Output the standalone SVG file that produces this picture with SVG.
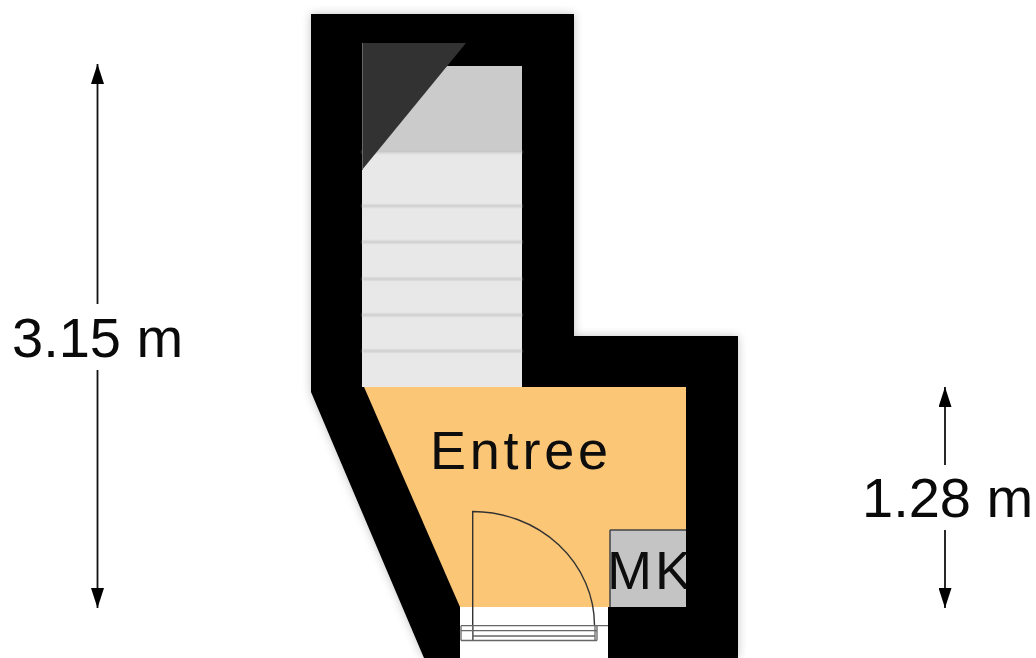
<svg xmlns="http://www.w3.org/2000/svg" width="1036" height="658" viewBox="0 0 1036 658">
<style>
text{font-family:"Liberation Sans",Arial,sans-serif;font-size:56px;fill:#0a0a0a}
.tread{fill:none;stroke:#c4c4c4;stroke-width:2;filter:url(#soft)}
.dim{stroke:#111;stroke-width:1.8;fill:none}
.door{fill:none;stroke:#333;stroke-width:1.4}
.door2{fill:none;stroke:#666;stroke-width:1.3}
.plan{filter:url(#tiny)}
</style>
<defs>
<filter id="tiny" x="-5%" y="-5%" width="110%" height="110%"><feGaussianBlur stdDeviation="0.45"/></filter>
<filter id="soft" x="-20%" y="-20%" width="140%" height="140%"><feGaussianBlur stdDeviation="0.9"/></filter>
<filter id="shadow" x="-10%" y="-10%" width="120%" height="120%"><feGaussianBlur stdDeviation="5"/></filter>
<marker id="arrow" viewBox="0 0 20 13" refX="20" refY="6.5" markerUnits="userSpaceOnUse" markerWidth="20" markerHeight="13" orient="auto"><path d="M0 0L20 6.500L0 13Z" fill="#000"/></marker>
<clipPath id="mkclip"><rect x="600" y="530" width="86" height="77"/></clipPath>
</defs>
<rect width="1036" height="658" fill="#fff"/>
<path d="M311 14H574V336H738V658H608V607H460V658H424L311 392Z" fill="#888" opacity=".5" filter="url(#shadow)"/>
<g id="walls" class="plan">
<path d="M311 14H574V336H738V658H424L311 392Z" fill="#000"/>
</g>
<g id="stairs" class="plan">
<rect x="362" y="43" width="160" height="344" fill="#000"/>
<rect x="362" y="66" width="160" height="87" fill="#cbcbcb"/>
<rect x="362" y="152" width="160" height="235" fill="#e8e8e8"/>
<path class="tread" d="M362 152H522M362 206H522M362 242H522M362 279H522M362 315H522M362 351H522"/>
<path d="M362 43H466L362 170Z" fill="#333"/>
<path d="M362.500 43V170" stroke="#666" fill="none"/>
</g>
<g id="entree" class="plan">
<path d="M364 387H686V607H460Z" fill="#fcc677"/>
<text x="430" y="469" font-size="54" style="font-size:54px" textLength="178" lengthAdjust="spacing">Entree</text>
</g>
<g id="mk" class="plan">
<rect x="610" y="530" width="76" height="77" fill="#c4c4c4"/>
<path d="M610 530H686M610 530V607" stroke="#444" stroke-width="1.500" fill="none"/>
<text x="607" y="589" style="font-size:54px" letter-spacing="3" clip-path="url(#mkclip)">MK</text>
</g>
<g id="door" class="plan">
<rect x="460" y="607" width="148" height="51" fill="#fff"/>
<path class="door" d="M472.700 641V511.500A122 114 0 0 1 594.500 625"/>
<path class="door2" d="M461 625.700H608M461 630.700H597M472 636H595M461 640.500H597M461 625.700V640.500M595 625.700V640.500M597 625.700V640.500M472.700 625V641"/>
</g>
<g id="connectors">
<path class="dim" d="M97.500 304V64" marker-end="url(#arrow)"/>
<path class="dim" d="M97.500 370V608" marker-end="url(#arrow)"/>
<path class="dim" d="M945 465V387" marker-end="url(#arrow)"/>
<path class="dim" d="M945 530V608" marker-end="url(#arrow)"/>
</g>
<g id="labels">
<text x="12" y="357">3.15 m</text>
<text x="862" y="517">1.28 m</text>
</g>
</svg>
